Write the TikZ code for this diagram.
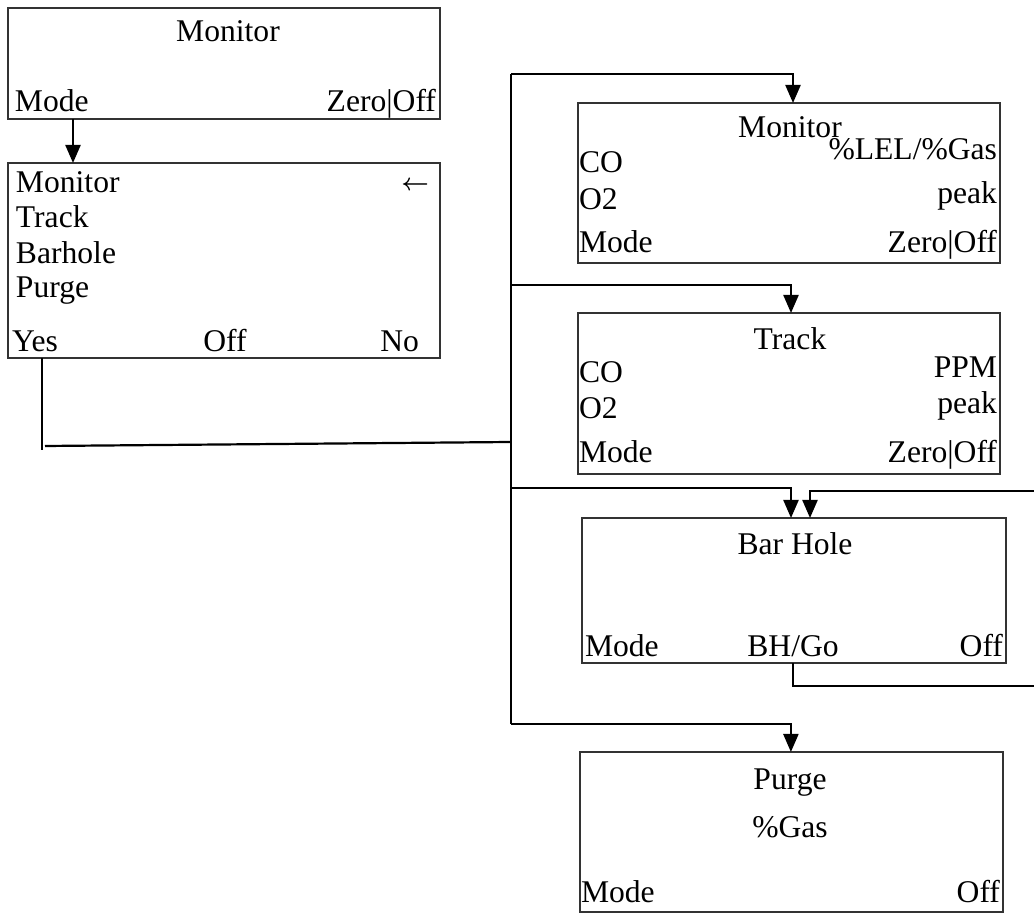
\documentclass[tikz,border=0pt]{standalone}
\usepackage{fontspec}
\setmainfont{Liberation Serif}
\usetikzlibrary{arrows.meta}
\begin{document}
\begin{tikzpicture}[x=0.5pt,y=-0.5pt,
  box/.style={draw=black!80,line width=0.7pt,rectangle,inner sep=0pt,outer sep=0pt,anchor=north west},
  txt/.style={inner sep=0pt,outer sep=0pt,font={\fontsize{15.8pt}{18pt}\selectfont}},
  symb/.style={inner sep=0pt,outer sep=0pt,anchor=base east,font={\fontsize{13pt}{15pt}\selectfont\boldmath}},
  lt/.style={txt,anchor=base west},
  rt/.style={txt,anchor=base east},
  ct/.style={txt,anchor=base},
  conn/.style={line width=1.1pt,black},
  arr/.style={conn,-{Triangle[width=7.5pt,length=9pt]}}]
\useasboundingbox (0,0) rectangle (1034,913);
% boxes
\node[box,minimum width=216pt,minimum height=55.5pt] (b1) at (8,8) {};
\node[box,minimum width=216pt,minimum height=97.5pt] (b2) at (8,163) {};
\node[box,minimum width=211pt,minimum height=80pt] (b3) at (578,103) {};
\node[box,minimum width=211pt,minimum height=80.5pt] (b4) at (578,313) {};
\node[box,minimum width=212pt,minimum height=72.5pt] (b5) at (582,518) {};
\node[box,minimum width=211.5pt,minimum height=80pt] (b6) at (580,752) {};
% box 1 texts
\node[ct] (b1t) at (228,42) {Monitor};
\node[lt] (b1m) at (15,112) {Mode};
\node[rt] (b1z) at (436,112) {Zero|Off};
% box 2 texts
\node[lt] (b2a) at (16,193) {Monitor};
\node[lt] (b2b) at (16,228) {Track};
\node[lt] (b2c) at (16,264) {Barhole};
\node[lt] (b2d) at (16,298) {Purge};
\node[symb] (b2ar) at (429,191) {$\leftarrow$};
\node[lt] (b2y) at (12,352) {Yes};
\node[ct] (b2o) at (225,352) {Off};
\node[rt] (b2n) at (419,352) {No};
% box 3 texts
\node[ct] (b3t) at (790,138) {Monitor};
\node[lt] (b3co) at (579,173) {CO};
\node[rt] (b3l) at (997,160) {\%LEL/\%Gas};
\node[lt] (b3o) at (579,210) {O2};
\node[rt] (b3p) at (997,204) {peak};
\node[lt] (b3m) at (579,253) {Mode};
\node[rt] (b3z) at (997,253) {Zero|Off};
% box 4 texts
\node[ct] (b4t) at (790,350) {Track};
\node[lt] (b4co) at (579,383) {CO};
\node[rt] (b4ppm) at (997,378) {PPM};
\node[lt] (b4o) at (579,419) {O2};
\node[rt] (b4p) at (997,414) {peak};
\node[lt] (b4m) at (579,463) {Mode};
\node[rt] (b4z) at (997,463) {Zero|Off};
% box 5 texts
\node[ct] (b5t) at (795,555) {Bar Hole};
\node[lt] (b5m) at (585,657) {Mode};
\node[ct] (b5g) at (793,657) {BH/Go};
\node[rt] (b5o) at (1003,657) {Off};
% box 6 texts
\node[ct] (b6t) at (790,790) {Purge};
\node[ct] (b6g) at (790,838) {\%Gas};
\node[lt] (b6m) at (581,903) {Mode};
\node[rt] (b6o) at (1000,903) {Off};
% coordinates
\coordinate (t1) at (511,74);
\coordinate (t2) at (511,285);
\coordinate (ty) at (511,442);
\coordinate (t3) at (511,488);
\coordinate (t4) at (511,724);
\coordinate (yd) at (42,446);
\coordinate (rA) at (1034,686);
\coordinate (rB) at (1034,491);
% connectors
\draw[arr] ([xshift=32.5pt]b1.south west) -- ([xshift=32.5pt]b2.north west);
\draw[conn] ([xshift=17pt]b2.south west) -- ([yshift=-2pt]yd);
\draw[conn] ([xshift=1.5pt]yd) -- (ty);
\draw[conn] (t1) -- (t4);
\draw[arr] (t1) -| ([xshift=2pt]b3.north);
\draw[arr] (t2) -| ([xshift=1pt]b4.north);
\draw[arr] (t3) -| ([xshift=-1.5pt]b5.north);
\draw[arr] (t4) -| ([xshift=-0.3pt]b6.north);
\draw[conn] ([xshift=-0.5pt]b5.south) |- (rA);
\draw[arr] (rB) -| ([xshift=8pt]b5.north);
\end{tikzpicture}
\end{document}
